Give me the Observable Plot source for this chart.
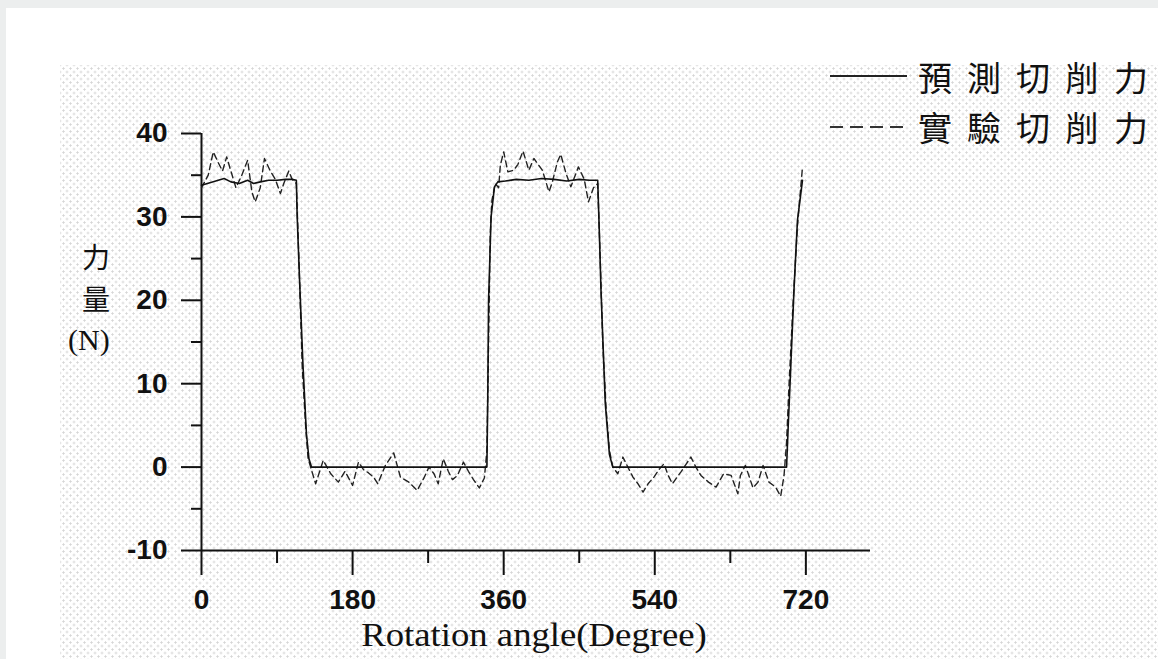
<!DOCTYPE html>
<html>
<head>
<meta charset="utf-8">
<script src="https://cdn.jsdelivr.net/npm/d3@7"></script>
<script src="https://cdn.jsdelivr.net/npm/@observablehq/plot@0.6"></script>
<style>
  html, body { margin: 0; padding: 0; }
  body { width: 1158px; height: 659px; overflow: hidden; background: #eceeee; }
  #wrap { position: relative; width: 1158px; height: 659px; }
  #white { position: absolute; left: 6px; top: 8px; right: 0; bottom: 0; background: #fff; }
  #dots { position: absolute; left: 60px; top: 65px; right: 0; bottom: 0;
    background-image: radial-gradient(circle, #d6d6d6 0.9px, transparent 1.3px),
                      radial-gradient(circle, #d6d6d6 0.9px, transparent 1.3px);
    background-size: 7px 7px, 7px 7px; background-position: 0 0, 3.5px 3.5px; }
  #chart { position: absolute; left: 0; top: 0; }
  .lbl { position: absolute; color: #111; white-space: nowrap; }
  .cjk { font-family: "Noto Sans CJK TC", "Noto Sans CJK SC", sans-serif; }
  .serif { font-family: "Liberation Serif", "DejaVu Serif", serif; }
  .leg { position: absolute; left: 828px; }
  .sp { letter-spacing: 15px; }
</style>
</head>
<body>
<div id="wrap">
  <div id="white"></div>
  <div id="dots"></div>
  <div id="chart"></div>
  <div class="lbl cjk" style="left:82px; top:238px; font-size:28px; line-height:36px;">力</div>
  <div class="lbl cjk" style="left:82px; top:280px; font-size:28px; line-height:36px;">量</div>
  <div class="lbl serif" style="left:68px; top:322px; font-size:30px; line-height:36px;">(N)</div>
  <div class="lbl serif" style="left:534px; top:614px; font-size:34px; line-height:42px; transform:translateX(-50%) scaleX(1.08);">Rotation angle(Degree)</div>
  <svg class="leg" style="top:70px;" width="82" height="12"><line x1="2" y1="6" x2="79" y2="6" stroke="#222" stroke-width="2"/></svg>
  <svg class="leg" style="top:121px;" width="82" height="12"><line x1="2" y1="6" x2="79" y2="6" stroke="#333" stroke-width="2" stroke-dasharray="13,7"/></svg>
  <div class="lbl cjk" style="left:918px; top:55px; font-size:34px; line-height:44px;"><span class="sp">預測切削</span>力</div>
  <div class="lbl cjk" style="left:918px; top:105px; font-size:34px; line-height:44px;"><span class="sp">實驗切削</span>力</div>
</div>
<script>
// Axis domains and ticks
const xDomain = [0, 797];
const yDomain = [-10, 40];
const xMajorTicks = [0, 180, 360, 540, 720];
const xMinorTicks = [90, 270, 450, 630];
const yMajorTicks = [-10, 0, 10, 20, 30, 40];
const yMinorTicks = [-5, 5, 15, 25, 35];

// Predicted cutting force (solid)
const predAngle = [0, 10, 20, 27, 35, 45, 55, 62, 70, 80, 90, 100, 108, 113, 114, 117, 121, 125, 128, 131,
  340, 341, 342, 345, 349, 353, 362, 375, 390, 405, 420, 435, 450, 462, 472, 474, 476, 481, 486, 490,
  697, 699, 701, 706, 710, 716];
const predForce = [33.8, 34.1, 34.4, 34.6, 34.2, 34.0, 34.4, 34.0, 34.2, 34.4, 34.4, 34.5, 34.5, 34.4, 30, 22, 12, 4, 1, 0,
  0, 8, 20, 30, 33.6, 34.2, 34.3, 34.5, 34.4, 34.6, 34.5, 34.3, 34.5, 34.4, 34.4, 28, 21, 7.7, 1.5, 0,
  0, 5, 9.6, 21.6, 29.6, 34.4];

// Experimental cutting force (dashed)
const expAngle = [0, 8, 14, 20, 25, 30, 35, 41, 48, 55, 60, 64, 70, 75, 82, 88, 94, 98, 104, 108,
  113, 116, 120, 124, 127, 130, 136, 145, 154, 163, 171, 180, 187, 193, 199, 205, 210, 219, 229, 237,
  247, 257, 265, 271, 277, 282, 288, 294, 299, 305, 312, 318, 324, 331, 337, 340, 342, 344, 346, 350,
  354, 356, 360, 365, 372, 377, 383, 390, 396, 406, 414, 418, 424, 428, 434, 440, 449, 456, 461, 467,
  472, 475, 478, 482, 486, 490, 496, 502, 508, 514, 520, 526, 532, 539, 545, 551, 556, 561, 571, 577,
  583, 589, 595, 604, 613, 622, 631, 639, 642, 648, 657, 663, 669, 676, 684, 690, 694, 697, 700, 705,
  710, 716];
const expForce = [33.5, 35, 37.8, 36.5, 35.5, 37.2, 35.5, 33.5, 35, 36.8, 33, 31.8, 33.5, 37, 35.5, 34.5, 32.8, 34, 35.5, 34.5,
  34, 25, 12, 5, 1, 0, -2, 0.8, -0.8, -1.8, -0.5, -2.2, 0.6, -0.3, -0.7, -1.2, -2, 0.2, 1.7, -1.2,
  -1.8, -2.8, -1.3, 0, -0.8, -2, 1.0, -0.5, -1.5, -1, 0.6, -0.5, -1.5, -2.5, -1.3, 2, 15, 28, 32, 34,
  33.5, 36.2, 37.8, 35.4, 35.6, 36.3, 37.9, 35.6, 37, 35.6, 33, 34.2, 36.6, 37.5, 35.3, 33.6, 36, 34.5, 31.8, 33.5,
  34, 25, 15, 7, 2, 0, -0.8, 1.2, 0, -1.2, -2, -3, -2, -1.2, -0.3, 0.4, -1, -2, -0.6, 0.3,
  1.2, 0, -1, -1.8, -2.4, -0.8, -1, -3.2, -1, 0.2, -2.5, -1.8, 0.2, -1.8, -2.4, -3.5, -1, 3, 10, 20,
  29, 36];

const pred = predAngle.map((a, i) => ({angle: a, force: predForce[i]}));
const exp = expAngle.map((a, i) => ({angle: a, force: expForce[i]}));

const tickFont = {fontSize: 28, fontWeight: "bold", fontFamily: "Liberation Sans, Arial, sans-serif"};
const plain = d => String(d);

const chart = Plot.plot({
  width: 1158,
  height: 659,
  marginLeft: 201,
  marginRight: 288,
  marginTop: 133,
  marginBottom: 109,
  style: {background: "transparent", color: "#111", fontFamily: "Liberation Sans, Arial, sans-serif"},
  x: {domain: xDomain},
  y: {domain: yDomain},
  marks: [
    Plot.axisY({ticks: yMajorTicks, tickSize: 20, tickPadding: 14, strokeWidth: 2, label: null, tickFormat: plain, ...tickFont}),
    Plot.axisY({ticks: yMinorTicks, tickSize: 10, strokeWidth: 2, label: null, tickFormat: () => ""}),
    Plot.axisX({ticks: xMajorTicks, tickSize: 25, tickPadding: 14, strokeWidth: 2, label: null, tickFormat: plain, ...tickFont}),
    Plot.axisX({ticks: xMinorTicks, tickSize: 13, strokeWidth: 2, label: null, tickFormat: () => ""}),
    Plot.ruleY([yDomain[0]], {x1: xDomain[0], x2: xDomain[1], stroke: "#111", strokeWidth: 2}),
    Plot.ruleX([xDomain[0]], {y1: yDomain[0], y2: yDomain[1], stroke: "#111", strokeWidth: 2}),
    Plot.line(exp, {x: "angle", y: "force", stroke: "#222", strokeWidth: 1.4, strokeDasharray: "6,4"}),
    Plot.line(pred, {x: "angle", y: "force", stroke: "#111", strokeWidth: 1.6})
  ]
});
document.getElementById("chart").appendChild(chart);
</script>
</body>
</html>
